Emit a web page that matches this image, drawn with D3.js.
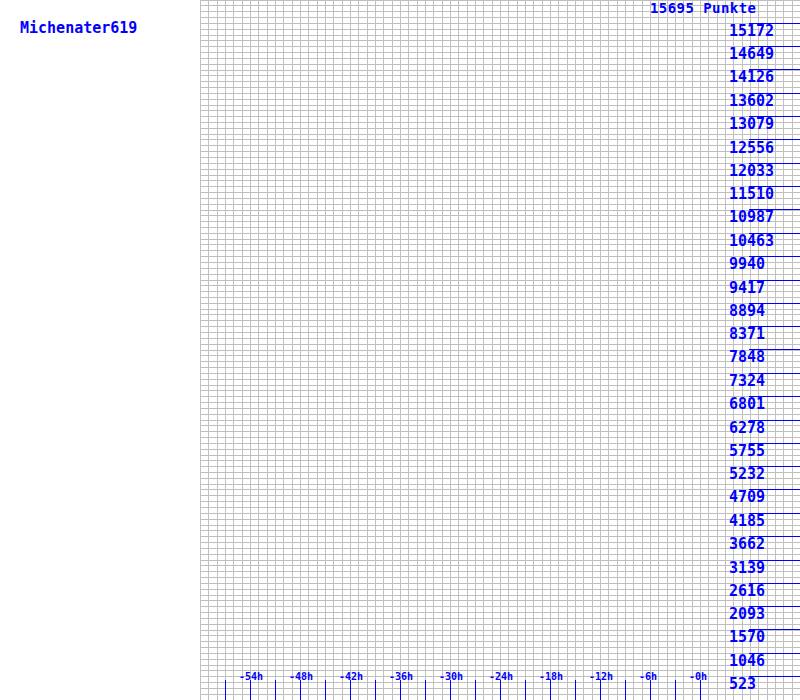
<!DOCTYPE html>
<html>
<head>
<meta charset="utf-8">
<script src="https://cdn.jsdelivr.net/npm/d3@7/dist/d3.min.js"></script>
<style>
html,body{margin:0;padding:0;background:#fff;}
svg{display:block;}
text{font-family:"DejaVu Sans Mono",monospace;font-weight:bold;fill:#0000ff;}
</style>
</head>
<body>
<script>
// ---- data ----
const playerName = "Michenater619";
const maxPoints = 15695;
const pointsLabel = "15695 Punkte";
const yTickValues = [523, 1046, 1570, 2093, 2616, 3139, 3662, 4185, 4709, 5232, 5755, 6278, 6801, 7324, 7848, 8371, 8894, 9417, 9940, 10463, 10987, 11510, 12033, 12556, 13079, 13602, 14126, 14649, 15172];
const xTickHours = [-57, -54, -51, -48, -45, -42, -39, -36, -33, -30, -27, -24, -21, -18, -15, -12, -9, -6, -3, 0];
const xLabelHours = [-54, -48, -42, -36, -30, -24, -18, -12, -6, 0];
const xDomain = [-60, 12];
const gridHourStep = 1;
const gridPointDivisions = 4; // grid lines per y-label interval

const W = 800, H = 700;
const svg = d3.select("body").append("svg").attr("width", W).attr("height", H);

const x = d3.scaleLinear().domain(xDomain).range([200, 800]);
const y = d3.scaleLinear().domain([0, maxPoints]).range([H, 0]);

const px = v => Math.round(v) + 0.5;

// grid
const grid = svg.append("g").style("stroke", "#c0c0c0").attr("stroke-width", 1).attr("shape-rendering", "crispEdges");
const vLines = d3.range(xDomain[0], xDomain[1] + 0.001, gridHourStep);
grid.selectAll("line.v").data(vLines).join("line")
  .attr("x1", d => px(x(d))).attr("x2", d => px(x(d)))
  .attr("y1", 0).attr("y2", H);
const step = maxPoints / (yTickValues.length + 1) / gridPointDivisions;
const hVals = d3.range(0, (yTickValues.length + 1) * gridPointDivisions + 1).map(i => i * step);
grid.selectAll("line.h").data(hVals).join("line")
  .attr("x1", 200).attr("x2", W)
  .attr("y1", d => Math.floor(y(d)) + 0.5).attr("y2", d => Math.floor(y(d)) + 0.5);

// y axis (right side) tick lines and labels
const yAxis = svg.append("g");
yAxis.selectAll("line").data(yTickValues).join("line")
  .attr("x1", 749).attr("x2", W)
  .attr("y1", d => Math.floor(y(d)) + 0.5).attr("y2", d => Math.floor(y(d)) + 0.5)
  .style("stroke", "#0000ff").attr("shape-rendering", "crispEdges");
yAxis.selectAll("text").data(yTickValues).join("text")
  .attr("x", 729).attr("y", d => y(d) + 12.5)
  .attr("font-size", 15)
  .text(d => d);

// x axis ticks
const xAxis = svg.append("g");
xAxis.selectAll("line").data(xTickHours).join("line")
  .attr("x1", d => px(x(d))).attr("x2", d => px(x(d)))
  .attr("y1", 680).attr("y2", H)
  .style("stroke", "#0000ff").attr("shape-rendering", "crispEdges");
xAxis.selectAll("text").data(xLabelHours).join("text")
  .attr("x", d => x(d) - 11).attr("y", 680)
  .attr("font-size", 10)
  .text(d => "-" + Math.abs(d) + "h");

// titles
svg.append("text").attr("x", 20).attr("y", 33).attr("font-size", 15).text(playerName);
svg.append("text").attr("x", 650).attr("y", 13).attr("font-size", 14)
  .attr("textLength", 106).attr("lengthAdjust", "spacing").text(pointsLabel);
</script>
</body>
</html>
